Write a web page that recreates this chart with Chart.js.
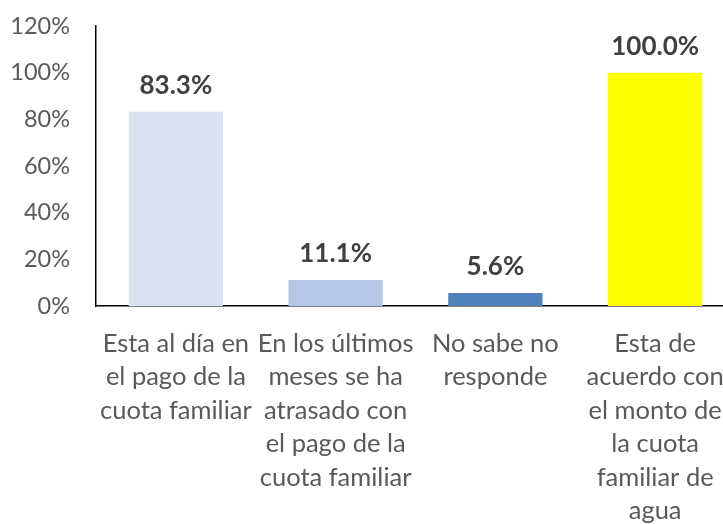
<!DOCTYPE html>
<html><head><meta charset="utf-8">
<script src="https://cdn.jsdelivr.net/npm/chart.js@4/dist/chart.umd.min.js"></script>
<style>html,body{margin:0;padding:0;background:#fff;overflow:hidden;width:723px;height:524px}canvas{display:block}</style>
</head><body><canvas id="c" width="735" height="524"></canvas>
<script>
const categories = [
  ["Esta al día en","el pago de la","cuota familiar"],
  ["En los últimos","meses se ha","atrasado con","el pago de la","cuota familiar"],
  ["No sabe no","responde"],
  ["Esta de","acuerdo con","el monto de","la cuota","familiar de","agua"]
];
const values = [83.3, 11.1, 5.6, 100.0];
const valueLabels = ["83.3%","11.1%","5.6%","100.0%"];
const barColors = ["#DAE3F3","#B4C7E7","#4F81BD","#FFFF00"];
const yTicks = [0,20,40,60,80,100,120];

const FONT = "Lato";
const labelPlugin = {
  id:'vlabels',
  afterDatasetsDraw(chart){
    const ctx = chart.ctx, meta = chart.getDatasetMeta(0);
    ctx.save();
    ctx.font = "bold 26px " + FONT;
    ctx.fillStyle = "#404040";
    ctx.textAlign = "center";
    ctx.textBaseline = "middle";
    meta.data.forEach((b,i)=>{ ctx.fillText(valueLabels[i], b.x, b.y - 26); });
    ctx.restore();
  }
};
new Chart(document.getElementById('c'), {
  type:'bar',
  data:{labels:categories, datasets:[{data:values, backgroundColor:barColors, barPercentage:0.59, categoryPercentage:1}]},
  options:{
    responsive:false, animation:false,
    layout:{padding:{top:26,left:0,right:0,bottom:0}},
    plugins:{legend:{display:false}, tooltip:{enabled:false}},
    scales:{
      x:{
        grid:{display:false, drawTicks:false},
        border:{color:"#000", width:1.5},
        ticks:{color:"#595959", font:{family:FONT,size:25.5,lineHeight:1.31}, padding:21, maxRotation:0, autoSkip:false},
        afterFit(s){ s.height = 218; s.paddingLeft = 0; s.paddingRight = 0; }
      },
      y:{
        min:0, max:120,
        afterBuildTicks(s){ s.ticks = yTicks.map(v=>({value:v})); },
        grid:{display:false, drawTicks:false},
        border:{color:"#000", width:1.5},
        ticks:{color:"#595959", font:{family:FONT,size:23.5}, padding:26, callback:v=>v+"%"},
        afterFit(s){ s.width = 96; s.paddingTop = 0; s.paddingBottom = 0; }
      }
    }
  },
  plugins:[labelPlugin]
});
</script></body></html>
